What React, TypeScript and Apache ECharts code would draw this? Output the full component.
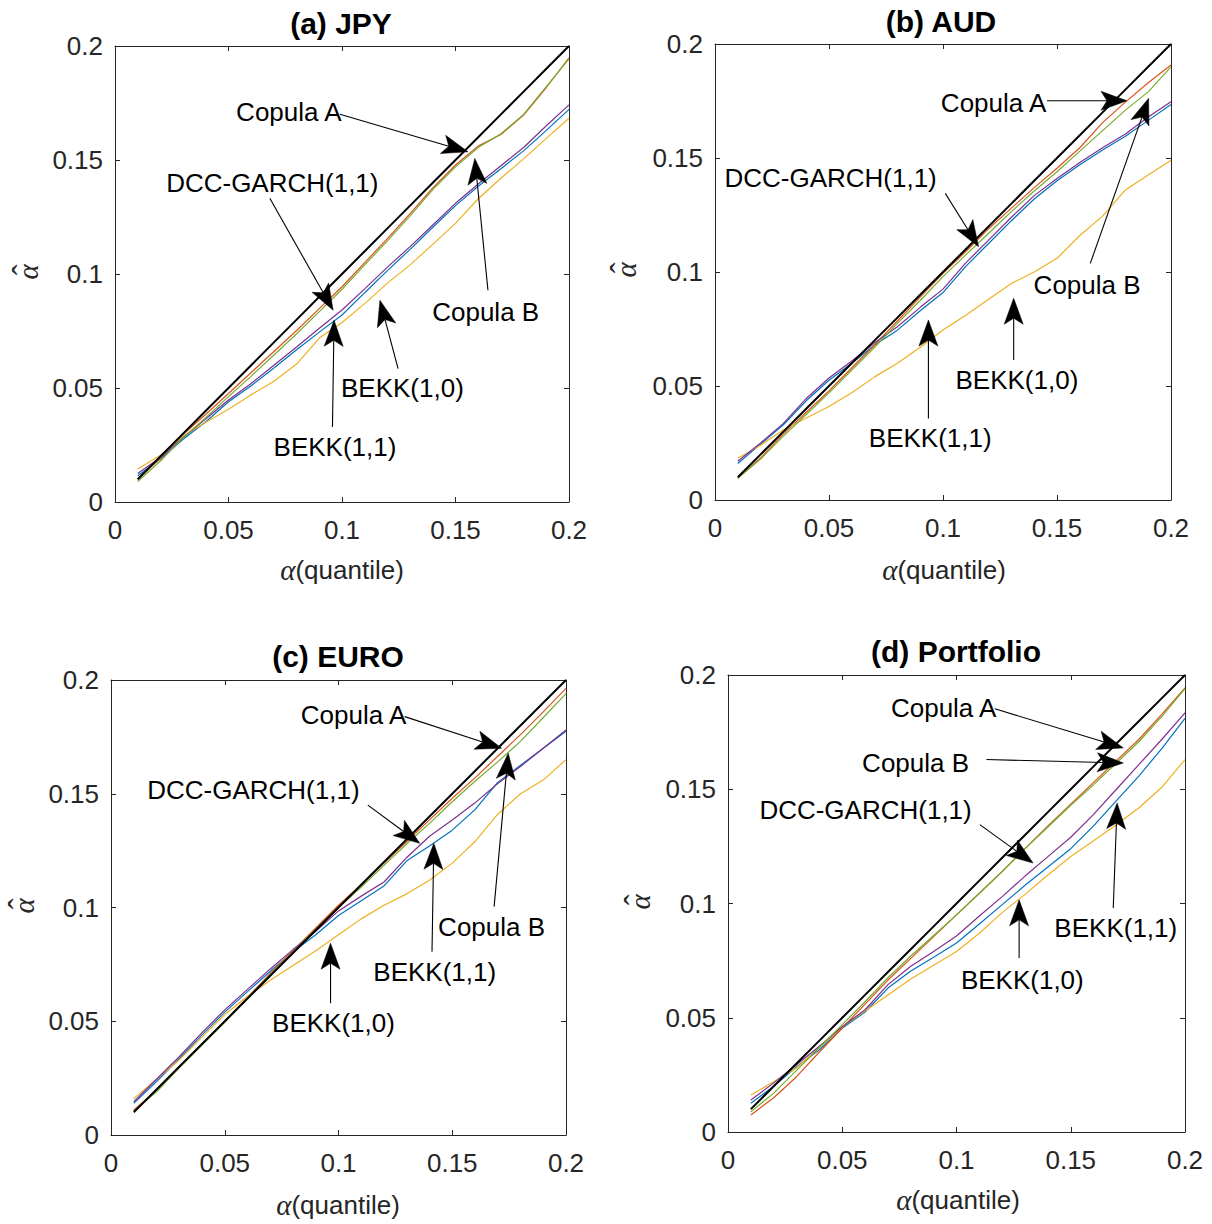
import React, { useEffect, useRef } from "react";
import * as echarts from "echarts";

// Quantile levels at which the backtest coverage was evaluated
const alphaGrid = [
  0.01, 0.02, 0.03, 0.04, 0.05, 0.06, 0.07, 0.08, 0.09, 0.1,
  0.11, 0.12, 0.13, 0.14, 0.15, 0.16, 0.17, 0.18, 0.19, 0.2,
];

const tickValues = [0, 0.05, 0.1, 0.15, 0.2];
const tickLabels = ["0", "0.05", "0.1", "0.15", "0.2"];

const modelNames = ["BEKK(1,1)", "Copula A", "BEKK(1,0)", "DCC-GARCH(1,1)", "Copula B"];
const modelColors = ["#0072BD", "#D95319", "#EDB120", "#7E2F8E", "#77AC30"];

const panelTitles = ["(a) JPY", "(b) AUD", "(c) EURO", "(d) Portfolio"];

// (a) JPY
const jpyBekk11 = [0.0115, 0.0188, 0.0275, 0.0352, 0.044, 0.051, 0.0588, 0.0668, 0.0745, 0.082, 0.0918, 0.1015, 0.1108, 0.1205, 0.13, 0.1385, 0.1462, 0.154, 0.163, 0.1722];
const jpyCopulaA = [0.01, 0.0192, 0.0296, 0.0385, 0.0476, 0.0568, 0.066, 0.0752, 0.0848, 0.0944, 0.105, 0.1155, 0.1265, 0.1378, 0.1478, 0.1561, 0.1612, 0.1697, 0.1818, 0.1948];
const jpyBekk10 = [0.0145, 0.0205, 0.0288, 0.035, 0.0407, 0.047, 0.053, 0.0605, 0.0719, 0.0787, 0.087, 0.096, 0.104, 0.113, 0.1222, 0.133, 0.142, 0.1505, 0.1595, 0.1683];
const jpyDcc = [0.0125, 0.0195, 0.0283, 0.0365, 0.0447, 0.052, 0.06, 0.068, 0.0762, 0.0842, 0.0935, 0.103, 0.112, 0.1215, 0.131, 0.1395, 0.1475, 0.1555, 0.165, 0.1742];
const jpyCopulaB = [0.009, 0.018, 0.0282, 0.037, 0.0462, 0.0552, 0.0645, 0.0738, 0.0835, 0.0933, 0.104, 0.1145, 0.1255, 0.137, 0.147, 0.1555, 0.1615, 0.17, 0.1822, 0.1944];

// (b) AUD
const audBekk11 = [0.016, 0.0245, 0.033, 0.0435, 0.0525, 0.06, 0.068, 0.0745, 0.083, 0.091, 0.1025, 0.1125, 0.1225, 0.132, 0.14, 0.147, 0.1535, 0.1595, 0.1665, 0.1735];
const audCopulaA = [0.0095, 0.0185, 0.029, 0.0385, 0.0478, 0.058, 0.068, 0.0785, 0.089, 0.0994, 0.109, 0.119, 0.128, 0.137, 0.1455, 0.1545, 0.1655, 0.1745, 0.183, 0.1908];
const audBekk10 = [0.0183, 0.024, 0.0307, 0.036, 0.041, 0.047, 0.054, 0.06, 0.067, 0.0746, 0.081, 0.088, 0.095, 0.1, 0.106, 0.116, 0.1245, 0.136, 0.1425, 0.149];
const audDcc = [0.017, 0.025, 0.0336, 0.0445, 0.0535, 0.061, 0.069, 0.076, 0.0845, 0.0925, 0.104, 0.114, 0.124, 0.1335, 0.141, 0.148, 0.1545, 0.1605, 0.168, 0.1747];
const audCopulaB = [0.0095, 0.018, 0.028, 0.0375, 0.047, 0.057, 0.067, 0.0775, 0.0875, 0.098, 0.1075, 0.117, 0.1265, 0.1355, 0.144, 0.153, 0.162, 0.171, 0.179, 0.19];

// (c) EURO
const euroBekk11 = [0.0139, 0.0235, 0.0335, 0.044, 0.054, 0.063, 0.072, 0.0805, 0.088, 0.0965, 0.103, 0.1095, 0.1205, 0.127, 0.134, 0.143, 0.155, 0.1625, 0.17, 0.1775];
const euroCopulaA = [0.011, 0.0195, 0.03, 0.04, 0.05, 0.0605, 0.071, 0.081, 0.091, 0.101, 0.11, 0.1195, 0.129, 0.1385, 0.148, 0.157, 0.1665, 0.176, 0.186, 0.1963];
const euroBekk10 = [0.016, 0.0245, 0.033, 0.043, 0.053, 0.061, 0.068, 0.0745, 0.081, 0.088, 0.095, 0.101, 0.106, 0.112, 0.1195, 0.129, 0.141, 0.15, 0.156, 0.165];
const euroDcc = [0.0146, 0.0245, 0.0344, 0.045, 0.055, 0.064, 0.073, 0.0815, 0.0895, 0.0985, 0.105, 0.1112, 0.122, 0.1313, 0.1385, 0.146, 0.1545, 0.162, 0.17, 0.178];
const euroCopulaB = [0.0105, 0.019, 0.0295, 0.0395, 0.0495, 0.06, 0.0705, 0.0805, 0.0905, 0.1, 0.109, 0.1185, 0.128, 0.137, 0.1465, 0.1555, 0.164, 0.173, 0.1835, 0.194];

// (d) Portfolio
const portBekk11 = [0.0126, 0.02, 0.0285, 0.036, 0.0454, 0.0525, 0.063, 0.0705, 0.0765, 0.0827, 0.091, 0.0995, 0.108, 0.116, 0.124, 0.134, 0.145, 0.156, 0.168, 0.181];
const portCopulaA = [0.0074, 0.015, 0.0242, 0.035, 0.0455, 0.056, 0.0665, 0.076, 0.0855, 0.095, 0.1045, 0.114, 0.124, 0.134, 0.1435, 0.153, 0.1625, 0.172, 0.183, 0.1944];
const portBekk10 = [0.0162, 0.022, 0.028, 0.037, 0.046, 0.053, 0.06, 0.067, 0.073, 0.079, 0.087, 0.096, 0.104, 0.1125, 0.1206, 0.1275, 0.1345, 0.142, 0.151, 0.163];
const portDcc = [0.014, 0.0215, 0.0294, 0.0375, 0.0461, 0.0535, 0.0645, 0.0725, 0.079, 0.0858, 0.0945, 0.103, 0.112, 0.1205, 0.129, 0.139, 0.15, 0.161, 0.172, 0.1834];
const portCopulaB = [0.0089, 0.017, 0.027, 0.037, 0.047, 0.057, 0.0675, 0.077, 0.086, 0.095, 0.1045, 0.114, 0.124, 0.1335, 0.143, 0.152, 0.1615, 0.171, 0.182, 0.194];

type Pt = [number, number];
type Note = { label: string; text: Pt; from: Pt; to: Pt };

// Callouts: label centre, arrow tail and arrow tip, in data coordinates
const jpyNotes: Note[] = [
  { label: "Copula A", text: [0.0766, 0.1712], from: [0.0991, 0.1701], to: [0.1555, 0.1536] },
  { label: "DCC-GARCH(1,1)", text: [0.0693, 0.1399], from: [0.0682, 0.1332], to: [0.0961, 0.0841] },
  { label: "Copula B", text: [0.1633, 0.0834], from: [0.1643, 0.0929], to: [0.1585, 0.1507] },
  { label: "BEKK(1,0)", text: [0.1266, 0.0499], from: [0.1247, 0.0585], to: [0.1167, 0.0885] },
  { label: "BEKK(1,1)", text: [0.0969, 0.0241], from: [0.0958, 0.0329], to: [0.0965, 0.0797] },
];
const audNotes: Note[] = [
  { label: "Copula A", text: [0.1222, 0.174], from: [0.1456, 0.1751], to: [0.1807, 0.1751] },
  { label: "DCC-GARCH(1,1)", text: [0.0507, 0.1411], from: [0.101, 0.1345], to: [0.1156, 0.1111] },
  { label: "Copula B", text: [0.1632, 0.0943], from: [0.1646, 0.1038], to: [0.1902, 0.1762] },
  { label: "BEKK(1,0)", text: [0.1324, 0.0526], from: [0.131, 0.0614], to: [0.131, 0.0885] },
  { label: "BEKK(1,1)", text: [0.0944, 0.0271], from: [0.0936, 0.0358], to: [0.0936, 0.0789] },
];
const euroNotes: Note[] = [
  { label: "Copula A", text: [0.1066, 0.1846], from: [0.1291, 0.1839], to: [0.1717, 0.17] },
  { label: "DCC-GARCH(1,1)", text: [0.0626, 0.1516], from: [0.1129, 0.145], to: [0.1357, 0.1282] },
  { label: "Copula B", text: [0.1673, 0.0916], from: [0.1684, 0.1004], to: [0.1746, 0.1678] },
  { label: "BEKK(1,1)", text: [0.1423, 0.0718], from: [0.1411, 0.0806], to: [0.1419, 0.1282] },
  { label: "BEKK(1,0)", text: [0.0978, 0.0491], from: [0.0965, 0.0579], to: [0.0965, 0.0843] },
];
const portNotes: Note[] = [
  { label: "Copula A", text: [0.0944, 0.1856], from: [0.1168, 0.1852], to: [0.173, 0.1681] },
  { label: "Copula B", text: [0.0821, 0.1615], from: [0.1131, 0.163], to: [0.173, 0.1615] },
  { label: "DCC-GARCH(1,1)", text: [0.0602, 0.1411], from: [0.1102, 0.1345], to: [0.1335, 0.1177] },
  { label: "BEKK(1,1)", text: [0.1697, 0.0892], from: [0.1686, 0.098], to: [0.1703, 0.144] },
  { label: "BEKK(1,0)", text: [0.1288, 0.0666], from: [0.1274, 0.0761], to: [0.1274, 0.1016] },
];

const panels = [
  {
    title: panelTitles[0],
    lines: [jpyBekk11, jpyCopulaA, jpyBekk10, jpyDcc, jpyCopulaB],
    notes: jpyNotes,
    box: { left: 115, top: 46, width: 454, height: 456 },
    titlePos: [341, 23], xNamePos: [342, 570], yNamePos: [28, 272],
  },
  {
    title: panelTitles[1],
    lines: [audBekk11, audCopulaA, audBekk10, audDcc, audCopulaB],
    notes: audNotes,
    box: { left: 715, top: 44, width: 456, height: 456 },
    titlePos: [941, 21], xNamePos: [944, 570], yNamePos: [626, 270],
  },
  {
    title: panelTitles[2],
    lines: [euroBekk11, euroCopulaA, euroBekk10, euroDcc, euroCopulaB],
    notes: euroNotes,
    box: { left: 111, top: 680, width: 455, height: 455 },
    titlePos: [338, 656], xNamePos: [338, 1205], yNamePos: [24, 906],
  },
  {
    title: panelTitles[3],
    lines: [portBekk11, portCopulaA, portBekk10, portDcc, portCopulaB],
    notes: portNotes,
    box: { left: 728, top: 675, width: 457, height: 457 },
    titlePos: [956, 651], xNamePos: [958, 1200], yNamePos: [640, 902],
  },
];

const AXIS_COLOR = "#262626";
const SANS = "'Liberation Sans', Arial, Helvetica, sans-serif";
const SERIF = "'Liberation Serif', 'DejaVu Serif', serif";

function tickText(v: number): string {
  const idx = Math.round(v / 0.05);
  return tickLabels[idx] ?? String(v);
}

function valueAxis(gridIndex: number, position: string, withLabels: boolean, isX: boolean) {
  return {
    type: "value",
    gridIndex,
    position,
    min: tickValues[0],
    max: tickValues[tickValues.length - 1],
    interval: 0.05,
    axisLine: { show: true, onZero: false, lineStyle: { color: AXIS_COLOR, width: 1 } },
    axisTick: { show: true, inside: true, length: 5, lineStyle: { color: AXIS_COLOR, width: 1 } },
    axisLabel: {
      show: withLabels,
      color: AXIS_COLOR,
      fontSize: 26,
      fontFamily: SANS,
      margin: isX ? 15 : 12,
      formatter: tickText,
    },
    splitLine: { show: false },
  };
}

function makeArrowRenderer(notes: Note[]) {
  return (params: any, api: any) => {
    const n = notes[params.dataIndex];
    const t = api.coord(n.text);
    const p1 = api.coord(n.from);
    const p2 = api.coord(n.to);
    const dx = p2[0] - p1[0];
    const dy = p2[1] - p1[1];
    const len = Math.hypot(dx, dy) || 1;
    const ux = dx / len;
    const uy = dy / len;
    const nx = -uy;
    const ny = ux;
    const headLen = 26;
    const halfW = 9.5;
    const notch = 20;
    const bx = p2[0] - ux * headLen;
    const by = p2[1] - uy * headLen;
    const mx = p2[0] - ux * notch;
    const my = p2[1] - uy * notch;
    return {
      type: "group",
      children: [
        {
          type: "line",
          shape: { x1: p1[0], y1: p1[1], x2: mx, y2: my },
          style: { stroke: "#000", lineWidth: 1.1 },
        },
        {
          type: "polygon",
          shape: {
            points: [
              [p2[0], p2[1]],
              [bx + nx * halfW, by + ny * halfW],
              [mx, my],
              [bx - nx * halfW, by - ny * halfW],
            ],
          },
          style: { fill: "#000", stroke: "#000", lineWidth: 0.5 },
        },
        {
          type: "text",
          x: t[0],
          y: t[1],
          style: {
            text: n.label,
            fill: "#000",
            fontSize: 26,
            fontFamily: SANS,
            align: "center",
            verticalAlign: "middle",
            textAlign: "center",
            textVerticalAlign: "middle",
          },
        },
      ],
    };
  };
}

function centeredText(text: string, x: number, y: number, extra: any) {
  return {
    type: "text",
    x,
    y,
    style: {
      text,
      align: "center",
      verticalAlign: "middle",
      textAlign: "center",
      textVerticalAlign: "middle",
      ...extra,
    },
  };
}

function buildOption() {
  const grid = panels.map((p) => ({ ...p.box, containLabel: false }));
  const xAxis: any[] = [];
  const yAxis: any[] = [];
  panels.forEach((_, i) => {
    xAxis.push(valueAxis(i, "bottom", true, true));
    xAxis.push(valueAxis(i, "top", false, true));
    yAxis.push(valueAxis(i, "left", true, false));
    yAxis.push(valueAxis(i, "right", false, false));
  });

  const series: any[] = [];
  panels.forEach((p, i) => {
    p.lines.forEach((vals, k) => {
      series.push({
        name: modelNames[k],
        type: "line",
        xAxisIndex: 2 * i,
        yAxisIndex: 2 * i,
        data: alphaGrid.map((a, j) => [a, vals[j]]),
        showSymbol: false,
        symbol: "none",
        silent: true,
        lineStyle: { color: modelColors[k], width: 1.2 },
        itemStyle: { color: modelColors[k] },
        z: 2,
      });
    });
    // 45-degree reference line: observed rate equals nominal quantile
    series.push({
      name: "nominal",
      type: "line",
      xAxisIndex: 2 * i,
      yAxisIndex: 2 * i,
      data: alphaGrid.map((a) => [a, a]),
      showSymbol: false,
      symbol: "none",
      silent: true,
      lineStyle: { color: "#000", width: 2 },
      z: 3,
    });
    series.push({
      type: "custom",
      xAxisIndex: 2 * i,
      yAxisIndex: 2 * i,
      data: p.notes.map((n) => n.to),
      renderItem: makeArrowRenderer(p.notes),
      clip: false,
      silent: true,
      z: 4,
    });
  });

  const graphic: any[] = [];
  panels.forEach((p) => {
    graphic.push(
      centeredText(p.title, p.titlePos[0], p.titlePos[1], {
        fill: "#000",
        fontSize: 30,
        fontWeight: "bold",
        fontFamily: SANS,
      })
    );
    graphic.push(
      centeredText("{a|α}{b|(quantile)}", p.xNamePos[0], p.xNamePos[1], {
        rich: {
          a: { fontFamily: SERIF, fontStyle: "italic", fontSize: 29, fill: AXIS_COLOR },
          b: { fontFamily: SANS, fontSize: 26, fill: AXIS_COLOR },
        },
      })
    );
    // ylabel: alpha with a hat, reading bottom-to-top
    graphic.push({
      type: "group",
      x: p.yNamePos[0],
      y: p.yNamePos[1],
      rotation: Math.PI / 2,
      children: [
        centeredText("α", 0, 0, {
          fill: AXIS_COLOR,
          fontSize: 29,
          fontStyle: "italic",
          fontFamily: SERIF,
        }),
        centeredText("\u02C6", 2, -5, {
          fill: AXIS_COLOR,
          fontSize: 32,
          fontFamily: SERIF,
        }),
      ],
    });
  });

  return {
    animation: false,
    backgroundColor: "#ffffff",
    grid,
    xAxis,
    yAxis,
    series,
    graphic,
  };
}

export default function App() {
  const ref = useRef<HTMLDivElement>(null);
  useEffect(() => {
    if (!ref.current) return;
    const chart = echarts.init(ref.current, undefined, { renderer: "svg" });
    chart.setOption(buildOption() as any);
    return () => chart.dispose();
  }, []);
  return (
    <div
      ref={ref}
      style={{ position: "fixed", left: 0, top: 0, width: 1212, height: 1224, background: "#fff" }}
    />
  );
}
